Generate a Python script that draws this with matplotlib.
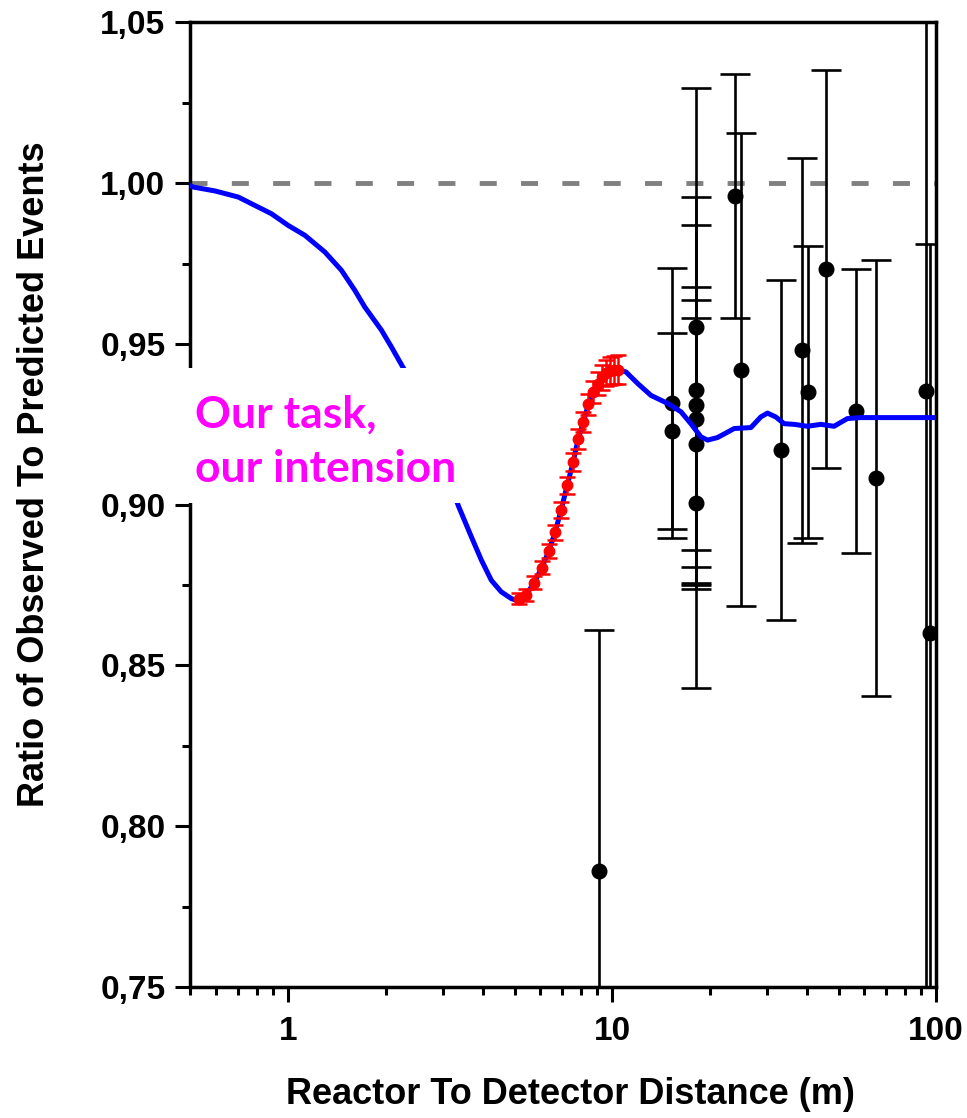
import numpy as np
import matplotlib
matplotlib.use("Agg")
import matplotlib.pyplot as plt
from matplotlib.patches import Rectangle
from matplotlib.ticker import FixedLocator, FuncFormatter

plt.rcParams['font.family'] = ['Liberation Sans', 'DejaVu Sans']
plt.rcParams['font.weight'] = 'bold'

# model curve (ratio vs distance, m)
curve_x = [0.5, 0.51, 0.595, 0.702, 0.772, 0.889, 1.0, 1.127, 1.299, 1.462, 1.607, 1.725,
           1.942, 2.084, 2.291, 2.6, 3.0, 3.36, 3.68, 3.95, 4.24, 4.55, 4.89, 5.12,
           5.18, 5.43, 5.75, 6.07, 6.38, 6.67, 6.96, 7.27, 7.58, 7.86, 8.16, 8.45, 8.75,
           9.04, 9.30, 9.58, 9.88, 10.16, 10.45, 11.04, 12.0, 13.19, 14.85, 16.32, 17.51,
           18.81, 19.72, 21.17, 23.82, 26.82, 28.78, 30.18, 32.01, 33.96, 36.46, 40.09,
           44.07, 48.43, 53.25, 58.54, 77.7, 100.0]
curve_y = [0.9992, 0.9988, 0.9976, 0.9957, 0.9936, 0.9905, 0.9869, 0.9838, 0.9786, 0.9729,
           0.9667, 0.9615, 0.9543, 0.9491, 0.9418, 0.930, 0.913, 0.8995, 0.8900, 0.8828,
           0.8765, 0.8729, 0.8708, 0.8701,
           0.8708, 0.8719, 0.8758, 0.8804, 0.8856, 0.8914, 0.8983, 0.9060, 0.9132, 0.9204,
           0.9257, 0.9312, 0.9351, 0.9377, 0.9397, 0.9410, 0.9416, 0.9418, 0.9420, 0.9413,
           0.9377, 0.9340, 0.9315, 0.9289, 0.9252, 0.9211, 0.9201, 0.9209, 0.9237, 0.9240,
           0.9273, 0.9285, 0.9273, 0.9252, 0.9250, 0.9244, 0.9250, 0.9244, 0.9268, 0.9271,
           0.9271, 0.9271]

# simulated measurement points (red)
sim_x = [5.18, 5.43, 5.75, 6.07, 6.38, 6.67, 6.96, 7.27, 7.58, 7.86, 8.16, 8.45, 8.75,
         9.04, 9.30, 9.58, 9.88, 10.16, 10.45]
sim_y = [0.8708, 0.8719, 0.8758, 0.8804, 0.8856, 0.8914, 0.8983, 0.9060, 0.9132, 0.9204,
         0.9257, 0.9312, 0.9351, 0.9377, 0.9397, 0.9410, 0.9416, 0.9418, 0.9420]
sim_err = [0.0018, 0.0019, 0.0020, 0.0021, 0.0022, 0.0024, 0.0025, 0.0026, 0.0028, 0.0030,
           0.0031, 0.0033, 0.0035, 0.0037, 0.0039, 0.0041, 0.0043, 0.0044, 0.0045]

# reactor experiments (black)
exp_x = [9.1, 15.3, 15.3, 18.15, 18.15, 18.15, 18.15, 18.15, 18.15, 24.0, 25.0, 33.2,
         38.7, 40.3, 45.6, 56.5, 65.1, 93.3, 95.5]
exp_y = [0.786, 0.9316, 0.9228, 0.9552, 0.9356, 0.9309, 0.9268, 0.9188, 0.9005, 0.996,
         0.942, 0.917, 0.948, 0.9351, 0.9733, 0.9292, 0.9083, 0.9355, 0.8601]
exp_err = [0.075, 0.042, 0.0305, 0.0745, 0.060, 0.056, 0.041, 0.045, 0.0575, 0.038,
           0.0735, 0.053, 0.060, 0.0454, 0.062, 0.0441, 0.0677, 0.25, 0.121]

fig = plt.figure(figsize=(9.67, 11.18), dpi=100)
ax = fig.add_axes([0.197, 0.1172, 0.771, 0.8627])

ax.axhline(1.0, color='#808080', lw=3.5, dashes=(3.5, 5.0), zorder=1)
ax.errorbar(exp_x, exp_y, yerr=exp_err, fmt='o', color='black', ms=10.5,
            elinewidth=1.9, capsize=11, capthick=1.9, zorder=2)
ax.plot(curve_x, curve_y, color='#0000ff', lw=3.6, zorder=3, solid_joinstyle='round')
ax.errorbar(sim_x, sim_y, yerr=sim_err, fmt='o', color='#ff0000', ms=7.5,
            elinewidth=1.8, capsize=5.5, capthick=1.8, zorder=4)

ax.set_xscale('log')
ax.set_xlim(0.5, 100)
ax.set_ylim(0.75, 1.05)
ax.xaxis.set_major_locator(FixedLocator([1, 10, 100]))
ax.xaxis.set_major_formatter(FuncFormatter(lambda v, p: f"{v:g}"))
ax.set_yticks(np.arange(0.75, 1.051, 0.05))
ax.set_yticks(np.arange(0.775, 1.05, 0.05), minor=True)
ax.yaxis.set_major_formatter(FuncFormatter(lambda v, p: f"{v:.2f}".replace('.', ',')))

for s in ax.spines.values():
    s.set_linewidth(2.5)
ax.tick_params(which='major', direction='out', length=11, width=2.2, labelsize=24, pad=7)
ax.tick_params(which='minor', direction='out', length=6, width=2.2)
ax.tick_params(axis='x', which='major', pad=10)
for lbl in ax.get_xticklabels() + ax.get_yticklabels():
    lbl.set_fontweight('bold')

ax.set_ylabel('Ratio of Observed To Predicted Events', fontsize=26, fontweight='bold', va='center')
ax.yaxis.set_label_coords(-0.2086, 0.532)
ax.set_xlabel('Reactor To Detector Distance (m)', fontsize=26, fontweight='bold', va='center')
ax.xaxis.set_label_coords(0.510, -0.112)

# white panel behind the annotation, covering curve and spine
ax.add_patch(Rectangle((-0.016, 0.5016), 0.391, 0.140, transform=ax.transAxes,
                       facecolor='white', edgecolor='none', zorder=5, clip_on=False))
ax.text(0.006, 0.5803, 'Our task,', transform=ax.transAxes, color='#ff00ff',
        fontsize=32, fontweight='bold', family=['Lato', 'DejaVu Sans'], va='baseline', zorder=6)
ax.text(0.006, 0.5233, 'our intension', transform=ax.transAxes, color='#ff00ff',
        fontsize=32, fontweight='bold', family=['Lato', 'DejaVu Sans'], va='baseline', zorder=6)

fig.savefig('out.png', dpi=100)
